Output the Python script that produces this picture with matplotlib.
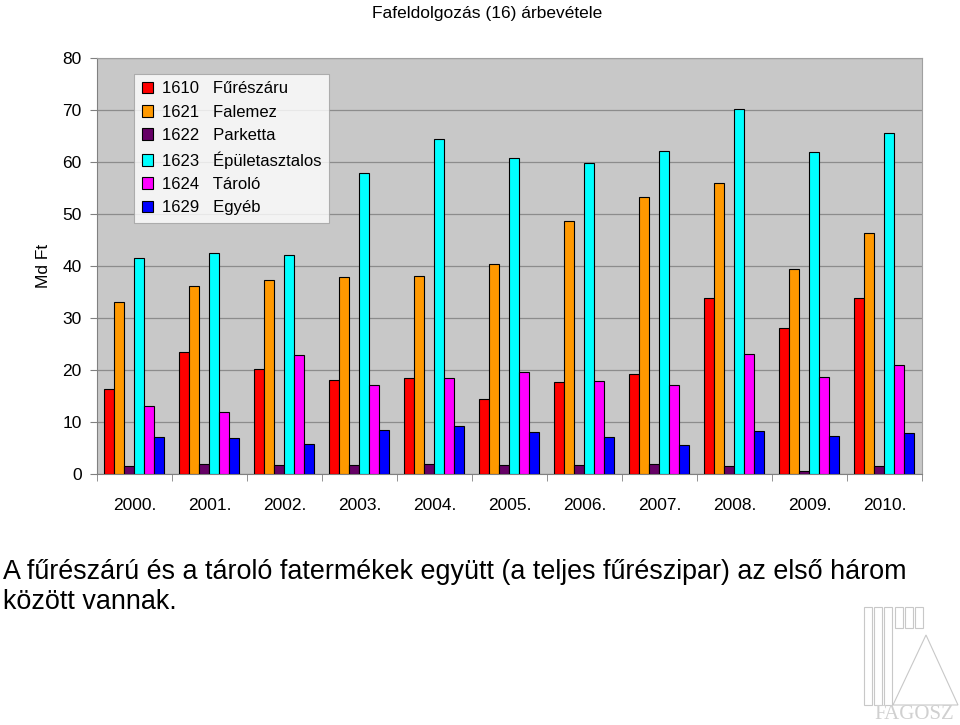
import numpy as np
import matplotlib.pyplot as plt
from matplotlib.patches import Rectangle, Polygon

plt.rcParams['font.family'] = ['Liberation Sans', 'DejaVu Sans']

years = ["2000.", "2001.", "2002.", "2003.", "2004.", "2005.",
         "2006.", "2007.", "2008.", "2009.", "2010."]
series_names = ["1610   Fűrészáru", "1621   Falemez", "1622   Parketta",
                "1623   Épületasztalos", "1624   Tároló", "1629   Egyéb"]
furesz = [16.3, 23.5, 20.1, 18.0, 18.4, 14.5, 17.7, 19.2, 33.9, 28.1, 33.8]
falemez = [33.1, 36.2, 37.4, 37.8, 38.0, 40.4, 48.7, 53.3, 56.0, 39.5, 46.4]
parketta = [1.6, 1.9, 1.8, 1.8, 2.0, 1.8, 1.8, 2.0, 1.5, 0.5, 1.5]
epulet = [41.5, 42.5, 42.1, 57.8, 64.4, 60.8, 59.9, 62.2, 70.1, 61.9, 65.5]
tarolo = [13.0, 11.9, 22.9, 17.1, 18.4, 19.7, 17.8, 17.1, 23.1, 18.6, 21.0]
egyeb = [7.1, 6.9, 5.7, 8.5, 9.3, 8.1, 7.2, 5.5, 8.3, 7.4, 7.9]

colors = ["#FF0000", "#FF9900", "#660066", "#00FFFF", "#FF00FF", "#0000FF"]
all_series = [furesz, falemez, parketta, epulet, tarolo, egyeb]

fig = plt.figure(figsize=(9.6, 7.25), dpi=100)
ax = fig.add_axes([0.101, 0.3462, 0.8594, 0.5738])
ax.set_facecolor("#C8C8C8")

x = np.arange(len(years))
BAR_WIDTH = 0.8 / 6
for i, (vals, col, name) in enumerate(zip(all_series, colors, series_names)):
    ax.bar(x - 0.4 + BAR_WIDTH * (i + 0.5), vals, width=BAR_WIDTH,
           color=col, edgecolor="black", linewidth=0.8, label=name, zorder=3)

ax.set_xlim(-0.5, len(years) - 0.5)
ax.set_ylim(0, 80)
ax.set_yticks(range(0, 81, 10))
ax.yaxis.grid(True, color="#8C8C8C", linewidth=0.9, zorder=0)
ax.set_axisbelow(True)

ax.set_xticks(x)
ax.set_xticklabels(years, fontsize=12.5)
ax.set_xticks(np.arange(-0.5, len(years), 1), minor=True)
ax.tick_params(axis="x", which="major", length=0, pad=17)
ax.tick_params(axis="x", which="minor", length=5, color="#808080")
ax.tick_params(axis="y", labelsize=12.5, length=5, color="#808080", pad=6)

for side in ["top", "right"]:
    ax.spines[side].set_color("#A0A0A0")
ax.spines["left"].set_color("#808080")
ax.spines["bottom"].set_color("#808080")

ax.set_ylabel("Md Ft", fontsize=12.5, labelpad=8)

leg = ax.legend(loc="upper left", bbox_to_anchor=(0.045, 0.962), fontsize=12,
                frameon=True, fancybox=False, handlelength=0.7,
                handleheight=0.7, handletextpad=0.5, labelspacing=0.5,
                borderpad=0.45, borderaxespad=0)
leg.get_frame().set_edgecolor("#A0A0A0")
leg.get_frame().set_linewidth(0.8)

fig.text(0.507, 0.992, "Fafeldolgozás (16) árbevétele", ha="center",
         va="top", fontsize=12.5)

fig.text(0.003, 0.229, "A fűrészárú és a tároló fatermékek együtt "
         "(a teljes fűrészipar) az első három\nközött vannak.",
         ha="left", va="top", fontsize=19.4, linespacing=1.2)

# faint logo in the corner
lc = "#C8C8C8"
for lx in [864, 874, 884]:
    fig.add_artist(Rectangle((lx / 960, 20 / 725), 8 / 960, 98 / 725,
                             transform=fig.transFigure, fill=False,
                             edgecolor=lc, linewidth=0.8))
for lx in [895, 905, 915]:
    fig.add_artist(Rectangle((lx / 960, 97 / 725), 8 / 960, 21 / 725,
                             transform=fig.transFigure, fill=False,
                             edgecolor=lc, linewidth=0.8))
fig.add_artist(Polygon([(893 / 960, 20 / 725), (958 / 960, 20 / 725),
                        (926 / 960, 90 / 725)], closed=True,
                       transform=fig.transFigure, fill=False,
                       edgecolor=lc, linewidth=0.8))
fig.text(0.952, 0.002, "FAGOSZ", ha="center", va="bottom", fontsize=15,
         color="#D0D0D0", family="Liberation Serif")

plt.savefig("out.png", dpi=100)
